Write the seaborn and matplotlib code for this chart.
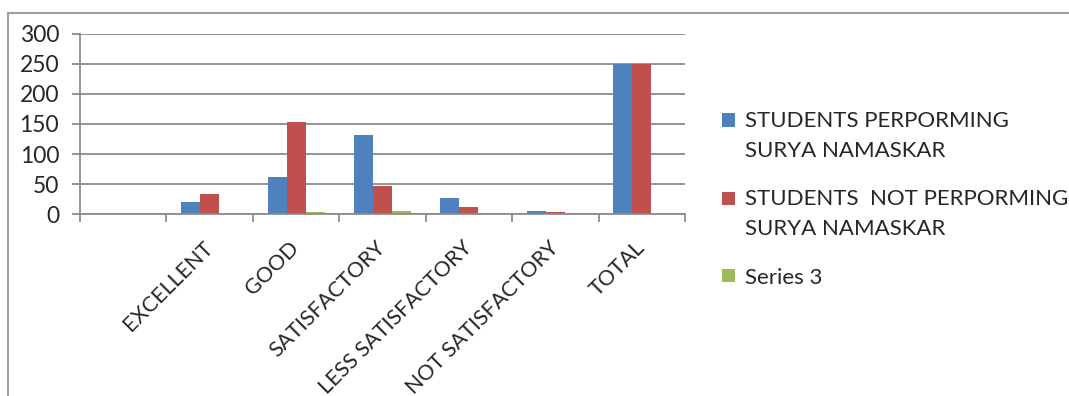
import numpy as np
import pandas as pd
import matplotlib
matplotlib.use("Agg")
import matplotlib.pyplot as plt
from matplotlib.lines import Line2D
from matplotlib.patches import Rectangle
from matplotlib.legend_handler import HandlerPatch
import seaborn as sns

categories = ["", "EXCELLENT", "GOOD", "SATISFACTORY", "LESS SATISFACTORY",
              "NOT SATISFACTORY", "TOTAL"]
performing = [0, 20, 62, 131, 27, 5, 250]
not_performing = [0, 33, 154, 46, 11, 3, 250]
series3 = [0, 0, 3, 5, 0, 0, 0]
series_names = ["STUDENTS PERPORMING\nSURYA NAMASKAR",
                "STUDENTS  NOT PERPORMING\nSURYA NAMASKAR",
                "Series 3"]
colors = ["#4F81BD", "#C0504D", "#9BBB59"]
y_ticks = [0, 50, 100, 150, 200, 250, 300]

sns.set_theme(style="white")
plt.rcParams["font.family"] = ["Lato", "DejaVu Sans"]

rows = []
for name, vals in zip(series_names, [performing, not_performing, series3]):
    for c, v in zip(categories, vals):
        rows.append({"category": c, "value": v, "series": name})
df = pd.DataFrame(rows)

W, H = 1069, 396
fig = plt.figure(figsize=(W / 100, H / 100), dpi=100)
ax = fig.add_axes([80 / W, 1 - 214 / H, (685 - 80) / W, (214 - 34) / H])

sns.barplot(data=df, x="category", y="value", hue="series", order=categories,
            hue_order=series_names, palette=colors, width=0.66, linewidth=0,
            saturation=1, ax=ax)

grid_c = "#8c8c8c"
ax.set_ylim(0, 300)
ax.set_xlim(-0.5, len(categories) - 0.5)
ax.set_yticks(y_ticks)
ax.yaxis.grid(True, color=grid_c, linewidth=1.3)
ax.set_axisbelow(True)
ax.set_xlabel("")
ax.set_ylabel("")
for s in ["top", "right"]:
    ax.spines[s].set_visible(False)
for s in ["left", "bottom"]:
    ax.spines[s].set_color(grid_c)
    ax.spines[s].set_linewidth(1.3)

ax.tick_params(axis="y", length=6, width=1.3, color=grid_c, pad=9,
               labelsize=16.5, labelcolor="#262626", left=True)
ax.set_xticks(np.arange(-0.5, len(categories), 1), minor=True)
ax.tick_params(axis="x", which="minor", length=6, width=1.3, color=grid_c,
               bottom=True)
ax.tick_params(axis="x", which="major", length=0, pad=22, labelsize=15.5,
               labelcolor="#262626")
for lab in ax.get_xticklabels():
    lab.set_rotation(45)
    lab.set_ha("right")
    lab.set_va("center")
    lab.set_rotation_mode("anchor")


class TopSquare(HandlerPatch):
    def __init__(self, dy, **kw):
        super().__init__(**kw)
        self.dy = dy

    def create_artists(self, legend, orig_handle, xdescent, ydescent, width,
                       height, fontsize, trans):
        p = Rectangle(xy=(-xdescent, -ydescent + self.dy), width=width,
                      height=height, facecolor=orig_handle.get_facecolor(),
                      edgecolor="none", transform=trans)
        return [p]


handles, labels = ax.get_legend_handles_labels()
ax.get_legend().remove()
hmap = {handles[0]: TopSquare(11.5), handles[1]: TopSquare(11.5),
        handles[2]: TopSquare(0.5)}
leg = fig.legend(handles, labels, loc="upper left",
                 bbox_to_anchor=(702 / W, 1 - 91 / H), frameon=False,
                 fontsize=16, handlelength=0.58, handleheight=0.55,
                 handletextpad=0.45, labelspacing=1.3, labelcolor="#262626",
                 handler_map=hmap)
for t in leg.get_texts():
    t.set_linespacing(1.6)

# outer chart frame (left and top edges)
fig.add_artist(Line2D([8 / W, 8 / W], [0, 1 - 13 / H], color="#a0a0a0", lw=1.5,
                      transform=fig.transFigure))
fig.add_artist(Line2D([8 / W, 1], [1 - 13 / H, 1 - 13 / H], color="#a0a0a0", lw=1.5,
                      transform=fig.transFigure))

fig.savefig("out.png", dpi=100)
